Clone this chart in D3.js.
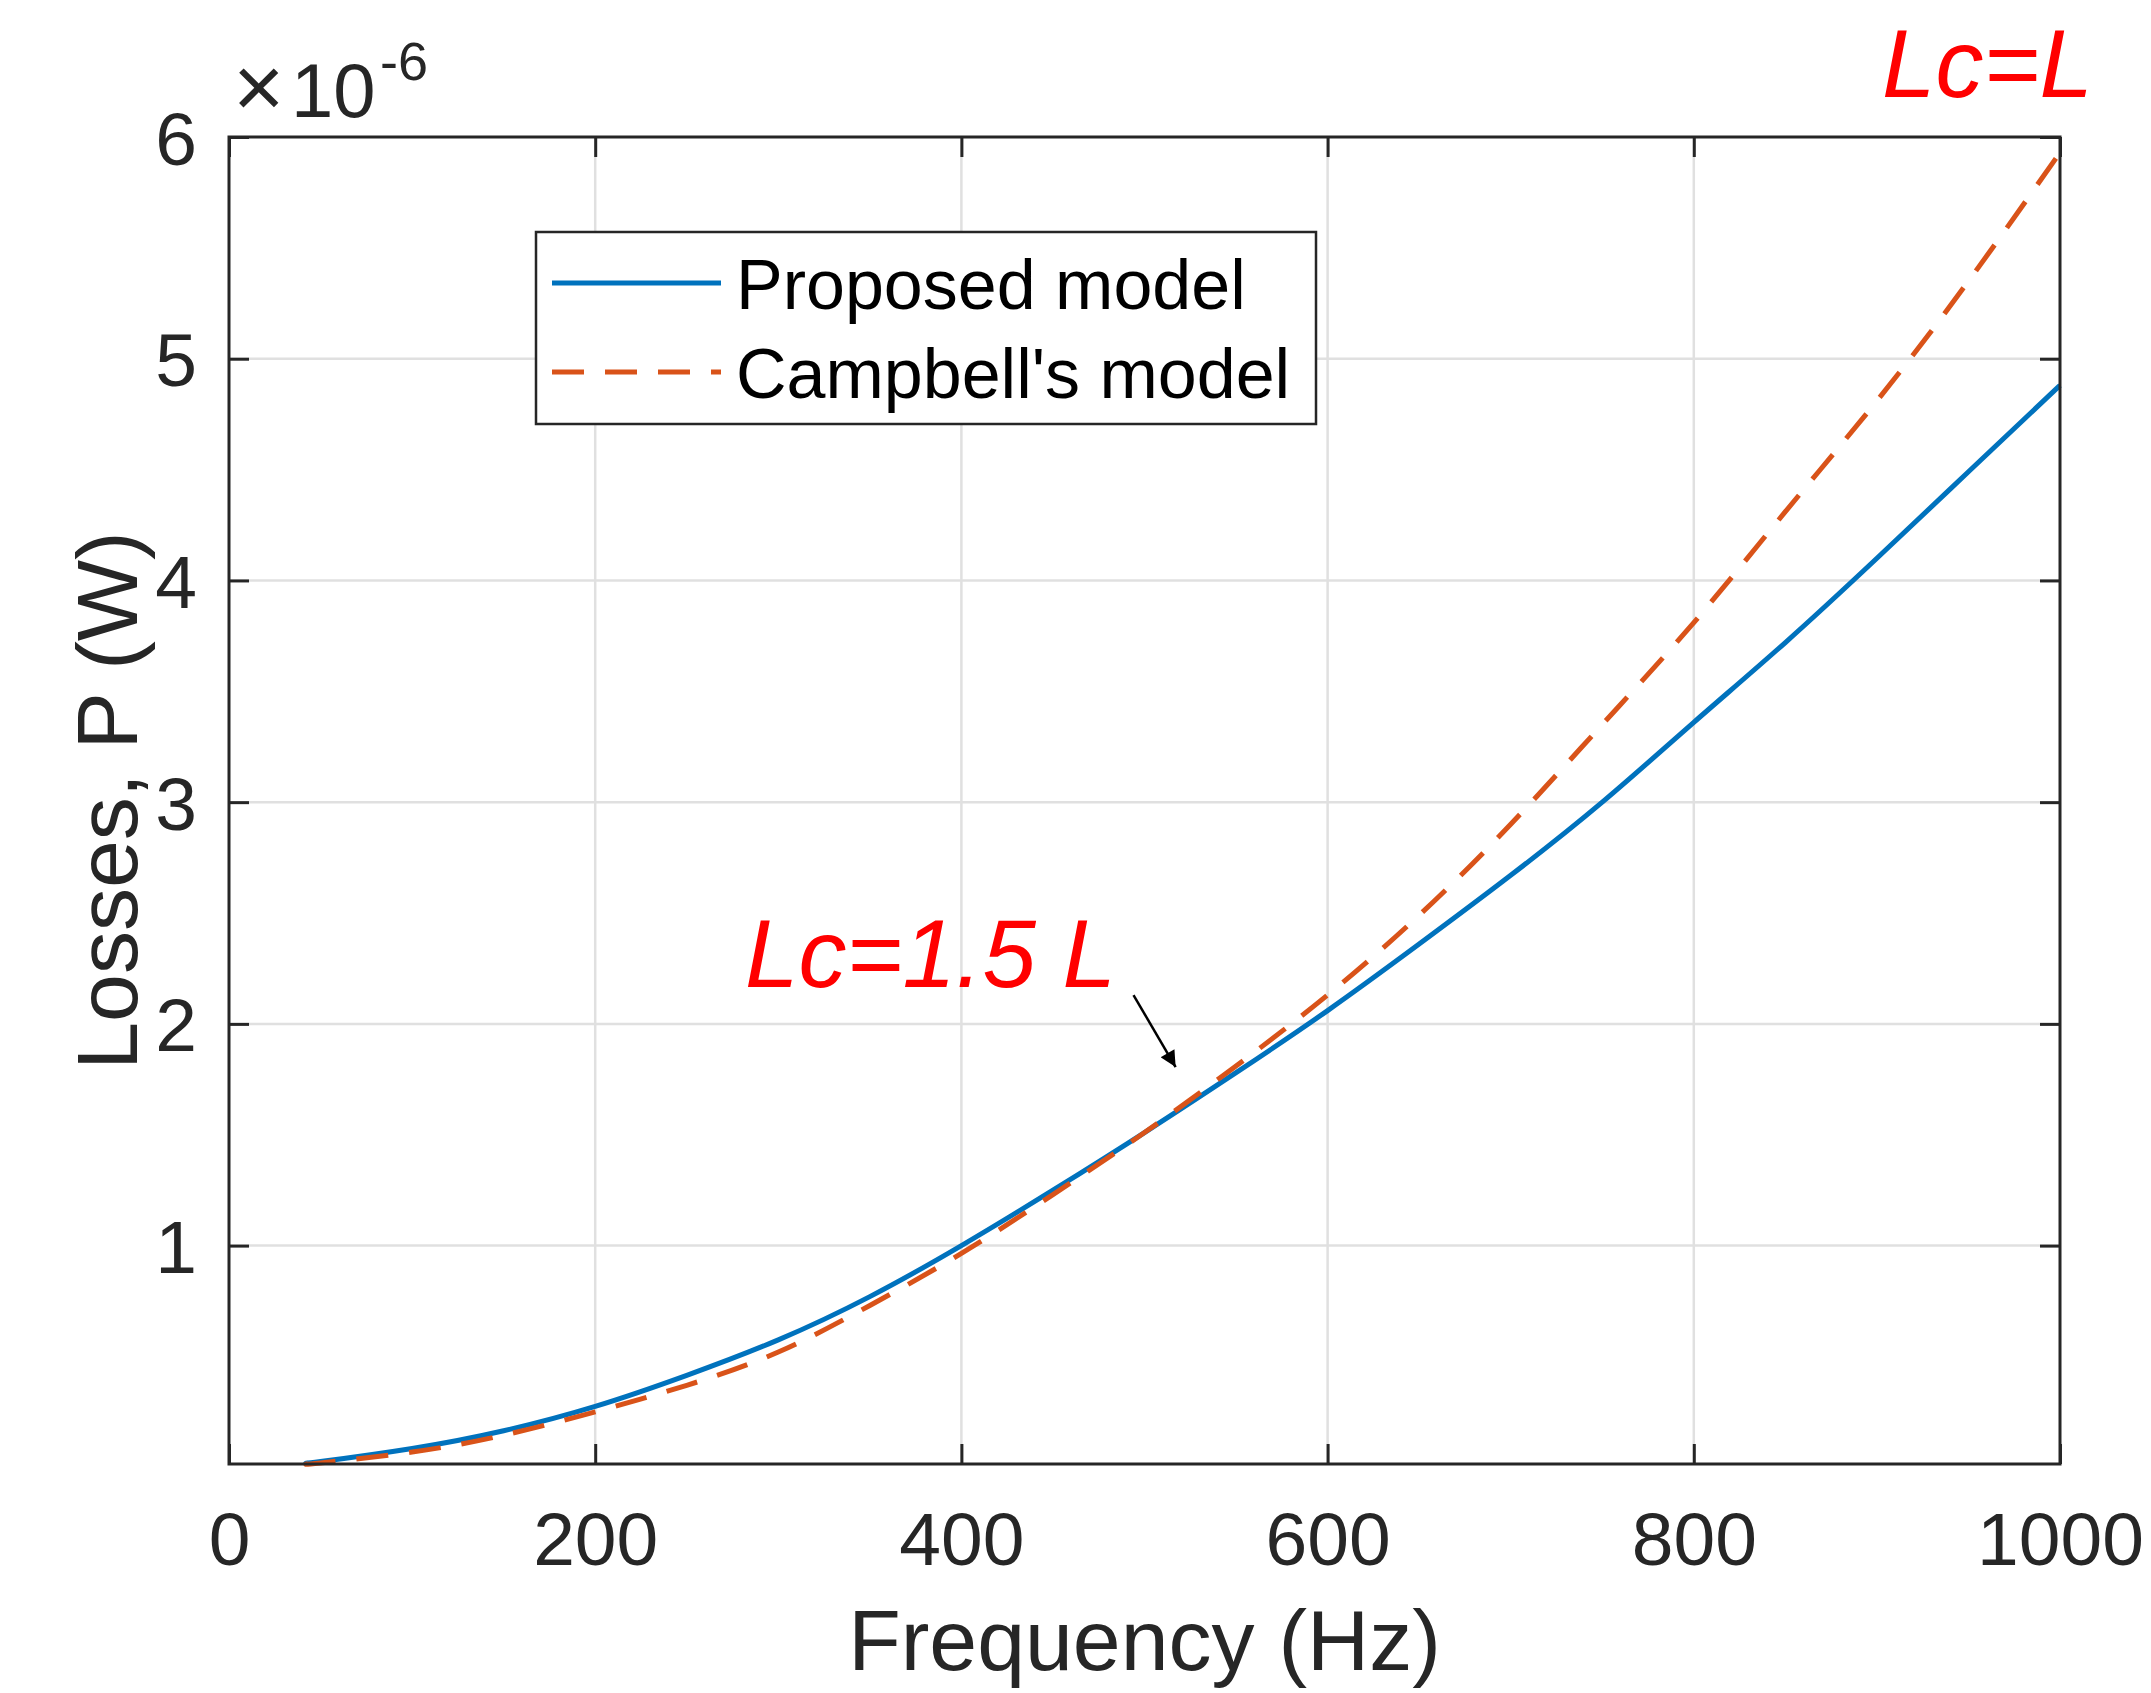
<!DOCTYPE html>
<html>
<head>
<meta charset="utf-8">
<script src="https://cdnjs.cloudflare.com/ajax/libs/d3/7.8.5/d3.min.js"></script>
<style>
    html, body { margin: 0; padding: 0; background: #fff; }
    svg text { font-family: "Liberation Sans", Arial, Helvetica, sans-serif; fill: #262626; }
</style>
</head>
<body>
<div id="chart"></div>
<script>
/*global d3*/
// frequency samples (Hz) and losses (x 1e-6 W)
var freqHz = [43, 50, 100, 150, 200, 250, 300, 350, 400, 450, 500, 550, 600, 650, 700, 750, 800, 850, 900, 950, 1000];
var proposedLoss = [0.02, 0.026, 0.085, 0.165, 0.275, 0.415, 0.575, 0.77, 1.0, 1.25, 1.51, 1.78, 2.06, 2.36, 2.67, 3.0, 3.36, 3.72, 4.10, 4.49, 4.88];
var campbellLoss = [0.016, 0.02, 0.069, 0.145, 0.25, 0.37, 0.52, 0.73, 0.965, 1.23, 1.51, 1.81, 2.13, 2.49, 2.90, 3.35, 3.81, 4.31, 4.81, 5.35, 5.93];
var seriesNames = ["Proposed model", "Campbell's model"];
var xTicks = [0, 200, 400, 600, 800, 1000];
var yTicks = [1, 2, 3, 4, 5, 6];
var xDomain = [0, 1000];
var yDomain = [0.015, 6];

(function () {
    "use strict";
    var width = 2151,
        height = 1693,
        plot = {left: 229, right: 2060, top: 137, bottom: 1464},
        axisColor = "#262626",
        gridColor = "#e0e0e0",
        blue = "#0072BD",
        orange = "#D95319",
        tickLen = 20,
        fmt = d3.format("d"),
        svg,
        xScale,
        yScale,
        line,
        series,
        legend,
        expo;

    svg = d3.select("#chart").append("svg")
        .attr("width", width)
        .attr("height", height)
        .style("display", "block");

    svg.append("rect").attr("width", width).attr("height", height).attr("fill", "#fff");

    xScale = d3.scaleLinear().domain(xDomain).range([plot.left, plot.right]);
    yScale = d3.scaleLinear().domain(yDomain).range([plot.bottom, plot.top]);

    //grid lines first so everything sits on top
    svg.append("g").selectAll("line").data(xTicks.slice(1, -1)).enter().append("line")
        .attr("x1", function (d) { return xScale(d); })
        .attr("x2", function (d) { return xScale(d); })
        .attr("y1", plot.top)
        .attr("y2", plot.bottom)
        .attr("stroke", gridColor)
        .attr("stroke-width", 2.5);

    svg.append("g").selectAll("line").data(yTicks.slice(0, -1)).enter().append("line")
        .attr("x1", plot.left)
        .attr("x2", plot.right)
        .attr("y1", function (d) { return yScale(d); })
        .attr("y2", function (d) { return yScale(d); })
        .attr("stroke", gridColor)
        .attr("stroke-width", 2.5);

    //the curves
    series = [
        {name: seriesNames[0], values: proposedLoss, color: blue, dash: null},
        {name: seriesNames[1], values: campbellLoss, color: orange, dash: "32,21"}
    ];

    line = d3.line()
        .x(function (d) { return xScale(d[0]); })
        .y(function (d) { return yScale(d[1]); })
        .curve(d3.curveNatural);

    series.forEach(function (s) {
        svg.append("path")
            .datum(freqHz.map(function (f, i) { return [f, s.values[i]]; }))
            .attr("d", line)
            .attr("fill", "none")
            .attr("stroke", s.color)
            .attr("stroke-width", 5)
            .attr("stroke-dasharray", s.dash);
    });

    //axes: bottom/left with labels, top/right mirrored ticks only
    function styleAxis(g) {
        g.select(".domain").remove();
        g.selectAll(".tick line").attr("stroke", axisColor).attr("stroke-width", 3);
        g.selectAll(".tick text")
            .style("font-size", "75px")
            .attr("fill", axisColor);
    }

    svg.append("g")
        .attr("transform", "translate(0," + plot.bottom + ")")
        .call(d3.axisBottom(xScale).tickValues(xTicks).tickFormat(fmt).tickSizeInner(-tickLen).tickSizeOuter(0).tickPadding(0))
        .call(styleAxis)
        .selectAll(".tick text")
        .attr("y", 101)
        .attr("dy", null);

    svg.append("g")
        .attr("transform", "translate(0," + plot.top + ")")
        .call(d3.axisTop(xScale).tickValues(xTicks).tickSizeInner(-tickLen).tickSizeOuter(0).tickFormat(""))
        .call(styleAxis);

    svg.append("g")
        .attr("transform", "translate(" + plot.left + ",0)")
        .call(d3.axisLeft(yScale).tickValues(yTicks).tickFormat(fmt).tickSizeInner(-tickLen).tickSizeOuter(0).tickPadding(0))
        .call(styleAxis)
        .selectAll(".tick text")
        .attr("x", -32)
        .attr("dy", "0.36em");

    svg.append("g")
        .attr("transform", "translate(" + plot.right + ",0)")
        .call(d3.axisRight(yScale).tickValues(yTicks).tickSizeInner(-tickLen).tickSizeOuter(0).tickFormat(""))
        .call(styleAxis);

    //box
    svg.append("rect")
        .attr("x", plot.left)
        .attr("y", plot.top)
        .attr("width", plot.right - plot.left)
        .attr("height", plot.bottom - plot.top)
        .attr("fill", "none")
        .attr("stroke", axisColor)
        .attr("stroke-width", 3);

    //exponent label
    expo = svg.append("text").style("font-size", "76px").attr("y", 117);
    expo.append("tspan").attr("x", 233).style("font-size", "88px").text("\u00d7");
    expo.append("tspan").attr("x", 291).text("10");
    expo.append("tspan").attr("x", 380).attr("y", 80).style("font-size", "54px").text("-6");

    //axis titles
    svg.append("text")
        .attr("x", (plot.left + plot.right) / 2)
        .attr("y", 1670)
        .attr("text-anchor", "middle")
        .style("font-size", "86px")
        .text("Frequency (Hz)");

    svg.append("text")
        .attr("transform", "translate(137," + (plot.top + plot.bottom) / 2 + ") rotate(-90)")
        .attr("text-anchor", "middle")
        .style("font-size", "86px")
        .text("Losses, P (W)");

    //legend
    legend = svg.append("g");
    legend.append("rect")
        .attr("x", 536)
        .attr("y", 232)
        .attr("width", 780)
        .attr("height", 192)
        .attr("fill", "#fff")
        .attr("stroke", axisColor)
        .attr("stroke-width", 2.5);

    series.forEach(function (s, i) {
        var ly = 283 + i * 89;
        legend.append("line")
            .attr("x1", 552)
            .attr("x2", 721)
            .attr("y1", ly)
            .attr("y2", ly)
            .attr("stroke", s.color)
            .attr("stroke-width", 5)
            .attr("stroke-dasharray", s.dash);
        legend.append("text")
            .attr("x", 736)
            .attr("y", ly + 26)
            .style("font-size", "70px")
            .style("fill", "#000")
            .text(s.name);
    });

    //red annotations
    svg.append("text")
        .attr("x", 1882)
        .attr("y", 97)
        .style("font-size", "96px")
        .style("font-style", "italic")
        .style("fill", "#ff0000")
        .text("Lc=L");

    svg.append("text")
        .attr("x", 745)
        .attr("y", 987)
        .style("font-size", "96px")
        .style("font-style", "italic")
        .style("fill", "#ff0000")
        .text("Lc=1.5 L");

    //arrow pointing at the curves
    svg.append("defs").append("marker")
        .attr("id", "arrowHead")
        .attr("viewBox", "0 0 10 10")
        .attr("refX", 10)
        .attr("refY", 5)
        .attr("markerUnits", "userSpaceOnUse")
        .attr("markerWidth", 22)
        .attr("markerHeight", 16)
        .attr("orient", "auto")
        .append("path")
        .attr("d", "M0,0 L10,5 L0,10 Z")
        .attr("fill", "#000");

    svg.append("line")
        .attr("x1", xScale(494))
        .attr("y1", yScale(2.13))
        .attr("x2", xScale(517))
        .attr("y2", yScale(1.805))
        .attr("stroke", "#000")
        .attr("stroke-width", 2.5)
        .attr("marker-end", "url(#arrowHead)");
}());
</script>
</body>
</html>
